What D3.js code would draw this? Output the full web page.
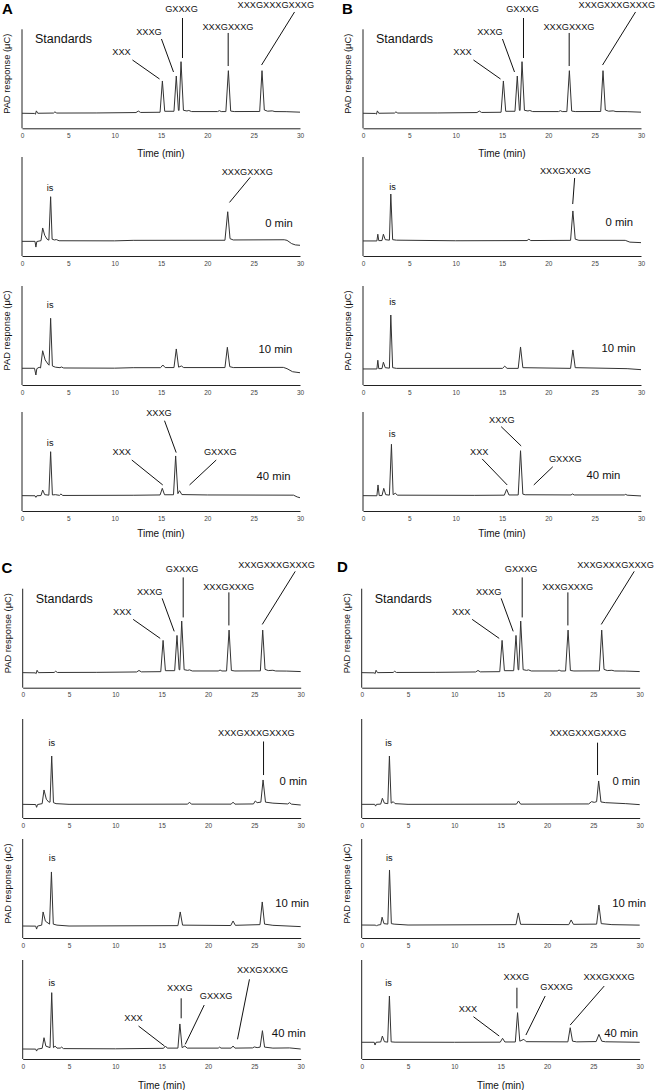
<!DOCTYPE html>
<html><head><meta charset="utf-8">
<script src="https://cdn.jsdelivr.net/npm/d3@7"></script>
<style>body{margin:0;background:#fff} text{font-family:"Liberation Sans",Arial,sans-serif}</style>
</head><body><svg id="c" width="656" height="1090"></svg>
<script>
// ---------- DATA (time in min, PAD response in relative units 0-100) ----------
const xTicks = [0,5,10,15,20,25,30];
const panelLetters = ["A","B","C","D"];
const captions = ["Standards","0 min","10 min","40 min"];

const standardsTrace = [[0,15.2],[1.35,15.0],[1.45,14.2],[1.55,17.6],[1.7,15.2],[3.4,15.4],[3.55,16.6],[3.75,15.4],[8,15.5],[12.3,15.9],[12.55,17.4],[12.8,16.0],[14.9,16.2],[15.15,47.8],[15.4,17.2],[16.4,17.2],[16.65,52.8],[16.88,18.2],[16.95,18],[17.16,67.3],[17.42,18.2],[17.8,17.5],[18.0,18],[18.3,16.9],[21.1,16.9],[21.3,17.8],[21.5,16.9],[22.0,16.9],[22.27,58.2],[22.52,17.4],[22.9,16.9],[25.65,17.0],[25.9,58.2],[26.15,18.5],[26.5,17.3],[27,17.6],[27.3,16.9],[28.5,16.8],[30,16.3]];

const a0Trace = [[0,14.8],[1.4,14.8],[1.5,9.0],[1.6,14.6],[2.05,15.5],[2.23,28.3],[2.45,21],[2.7,17],[2.9,16],[3.09,59.9],[3.25,17],[3.5,16.2],[3.7,16.6],[4,15.4],[10,15.3],[12,15.8],[21.9,15.9],[22.2,44.7],[22.45,17.5],[22.8,16.2],[28.3,16.4],[28.6,15.8],[29.1,12.5],[29.5,11.2],[30,10.8]];
const a10Trace = [[0,16.9],[1.35,16.9],[1.5,10.1],[1.6,16.5],[1.85,17.9],[2.0,17.2],[2.23,34.6],[2.5,25.3],[2.8,21.2],[2.92,20],[3.09,67.4],[3.28,19.2],[3.6,18],[4.1,17.5],[4.25,18.2],[4.5,17.2],[10,17],[12,17.5],[14.95,17.5],[15.2,20.2],[15.45,17.6],[16.4,17.6],[16.65,36.4],[16.9,18],[17.2,19.2],[17.45,17.6],[21.9,17.6],[22.16,38.1],[22.42,18.5],[22.8,17.6],[28.2,17.8],[28.6,16.5],[29.2,13.4],[30,12.4]];
const a40Trace = [[0,15.5],[1.4,15.4],[1.5,13.8],[1.6,15.4],[2.05,15.6],[2.23,21.2],[2.45,16.5],[2.9,16],[3.09,59.9],[3.28,16.2],[3.6,16.5],[4.05,15.8],[4.2,17.2],[4.4,15.7],[12,15.9],[14.9,16.2],[15.14,22.9],[15.38,16.4],[16.35,16.4],[16.58,55.6],[16.82,17.5],[17.0,20.5],[17.25,16.6],[20,16.2],[29.3,16.0],[29.7,14.2],[30,13.4]];

const b0Trace = [[0,15.2],[1.5,15.2],[1.6,22],[1.7,15.5],[2.05,15.6],[2.2,22],[2.4,16.5],[2.85,16],[3.0,62.6],[3.2,16.5],[3.6,16],[10,15.4],[17.7,15.6],[17.9,17],[18.1,15.6],[22.4,15.8],[22.65,45.5],[22.9,17],[23.3,15.8],[28.3,15.8],[28.8,14],[30,13.5]];
const b10Trace = [[0,16.2],[1.5,16.2],[1.6,25],[1.7,16.5],[2.05,16.6],[2.2,23],[2.4,17.5],[2.85,17],[3.0,70.7],[3.2,17.5],[3.6,16.8],[15.05,16.8],[15.3,19],[15.55,16.8],[16.75,16.8],[17.0,38.4],[17.25,17.5],[22.4,16.8],[22.65,35.4],[22.9,17.5],[28.5,16.5],[30,15.5]];
const b40Trace = [[0,15.5],[1.5,15.4],[1.62,26.3],[1.75,15.6],[2.05,15.6],[2.24,22.9],[2.45,16.5],[2.85,16],[3.07,67.4],[3.25,16.5],[3.5,18],[3.7,16],[12,15.8],[15.25,16],[15.5,21.9],[15.75,16.2],[16.75,16.2],[17.0,60.9],[17.25,17],[17.5,16.4],[22.45,16.2],[22.6,17.2],[22.8,16.2],[28.2,16.2],[28.35,16.8],[28.5,16],[30,15.2]];

const c0Trace = [[0,13.8],[1.4,13.6],[1.5,10.8],[1.6,13.6],[2.1,14.5],[2.3,28.3],[2.55,19],[2.8,16.2],[2.95,16],[3.13,62.6],[3.32,15.5],[3.6,14.5],[5,13.8],[17.8,14],[18,16],[18.2,14],[22.5,14],[22.7,16],[22.9,14],[24.9,14.2],[25.1,17.2],[25.3,15.5],[25.7,16],[25.94,38.4],[26.2,16],[27,15],[28.6,14.2],[28.8,15.5],[29,14],[30,13.1]];
const c10Trace = [[0,12.1],[1.4,12],[1.5,9],[1.6,12],[2.05,13],[2.2,26.3],[2.45,17],[2.9,14],[3.1,66.7],[3.3,14],[3.7,13],[5,12.1],[16.75,12.5],[17.0,26.3],[17.25,13],[22.45,12.6],[22.7,17.2],[22.95,12.8],[25.6,13.5],[25.85,36.4],[26.1,14],[27,12.8],[30,11.5]];
const c40Trace = [[0,10.1],[1.4,10],[1.5,8],[1.6,10],[2.1,10.8],[2.3,21.5],[2.5,13],[2.95,11.5],[3.13,67],[3.32,11.5],[3.5,13],[3.7,11],[4.05,11],[4.2,12],[4.4,10.5],[10,10.3],[15.2,10.8],[15.4,13.1],[15.6,11],[16.75,11],[16.96,35.4],[17.2,11.5],[17.5,13.1],[17.75,11],[21.1,11],[21.25,12],[21.4,11],[22.5,11],[22.7,13.1],[22.9,11],[24.8,11.2],[25.0,12.2],[25.3,11.5],[25.62,12],[25.87,28.6],[26.1,12],[27,11],[28.8,11.2],[30,10.1]];

const d0Trace = [[0,13.8],[1.4,13.8],[1.5,12],[1.6,13.8],[2.05,14],[2.23,19.9],[2.45,15],[2.82,14.5],[2.99,62.6],[3.18,15],[3.4,16.5],[3.6,14.5],[5,13.8],[16.7,14],[16.92,17.2],[17.15,14],[24.5,14.2],[24.8,16.5],[25.1,15.8],[25.35,16.5],[25.57,37.4],[25.82,16.2],[26.3,15.5],[28.5,14.5],[30,13.5]];
const d10Trace = [[0,13.1],[1.5,13],[1.6,12],[1.7,13],[2.05,13.5],[2.2,21],[2.4,14.5],[2.82,14],[3.0,68.7],[3.2,14.5],[3.5,14],[5,13.1],[16.65,13.5],[16.9,25.3],[17.15,13.8],[22.35,13.5],[22.6,18.2],[22.85,13.8],[25.35,14],[25.6,33.3],[25.85,14.5],[27,13.5],[30,13]];
const d40Trace = [[0,16.9],[1.35,16.9],[1.44,14.1],[1.55,16.9],[2.05,17.2],[2.23,23.2],[2.45,17.5],[2.8,17],[2.99,63.6],[3.18,17.3],[3.6,17],[10,16.9],[14.95,17],[15.2,20.9],[15.45,17.2],[16.58,17.2],[16.82,46.8],[17.06,18],[17.5,19.9],[17.75,17.5],[22.25,17.3],[22.5,31.6],[22.75,18],[23.2,17.3],[25.3,17.6],[25.6,24.9],[25.9,18],[26.3,17.4],[30,16.9]];

// peak annotations: label, label anchor (t, v), leader line [t1,v1,t2,v2]
const standardsNotes = [
  {text:"XXX", t:10.74, v:77.1, line:[11.92,69.0,14.84,49.8]},
  {text:"XXXG", t:13.70, v:97.3, line:[15.05,90.2,16.35,56.9]},
  {text:"GXXXG", t:17.21, v:120.5, line:[17.32,111.4,17.32,71.0]},
  {text:"XXXGXXXG", t:22.23, v:102.3, line:[22.25,96.3,22.25,62.9]},
  {text:"XXXGXXXGXXXG", t:27.39, v:124.5, line:[29.41,117.5,25.85,63.9]}
];
const a0Notes = [{text:"is", t:3.02, v:68.7},{text:"XXXGXXXG", t:24.31, v:85.2, line:[24.63,79.5,22.39,54.1]}];
const a10Notes = [{text:"is", t:3.04, v:80.8}];
const a40Notes = [{text:"is", t:3.04, v:69.4},
  {text:"XXX", t:10.76, v:59.9, line:[11.85,51.5,15.19,26.3]},
  {text:"XXXG", t:14.78, v:99.3, line:[15.38,91.2,16.64,59.0]},
  {text:"GXXXG", t:21.4, v:59.9, line:[20.96,51.5,18.08,26.3]}];
const b0Notes = [{text:"is", t:3.18, v:69.7},{text:"XXXGXXXG", t:21.85, v:85.9, line:[22.84,78.8,22.63,52.5]}];
const b10Notes = [{text:"is", t:3.18, v:83.8}];
const b40Notes = [{text:"is", t:3.15, v:78.5},
  {text:"XXX", t:12.55, v:59.9, line:[12.86,52.6,15.56,26.3]},
  {text:"XXXG", t:14.98, v:91.9, line:[14.91,85.2,17.07,65.7]},
  {text:"GXXXG", t:21.83, v:53.2, line:[20.48,44.7,18.43,26.3]}];
const c0Notes = [{text:"is", t:3.15, v:75.5},{text:"XXXGXXXGXXXG", t:25.22, v:86.2, line:[25.99,77.3,25.99,43.4]}];
const c10Notes = [{text:"is", t:3.18, v:80.8}];
const c40Notes = [{text:"is", t:3.15, v:77.1},
  {text:"XXX", t:11.96, v:42.1, line:[12.5,33.3,15.3,13.1]},
  {text:"XXXG", t:16.96, v:72.4, line:[17.1,61.3,17.1,41.1]},
  {text:"GXXXG", t:20.88, v:63.6, line:[19.59,54.5,17.54,14.8]},
  {text:"XXXGXXXG", t:25.88, v:90.6, line:[24.47,80.5,23.18,19.9]}];
const d0Notes = [{text:"is", t:2.89, v:75.5},{text:"XXXGXXXGXXXG", t:24.42, v:86.2, line:[25.45,76.1,25.45,43.4]}];
const d10Notes = [{text:"is", t:2.97, v:80.8}];
const d40Notes = [{text:"is", t:2.89, v:76.5},
  {text:"XXX", t:11.47, v:51.2, line:[12.06,42.7,14.84,23.2]},
  {text:"XXXG", t:16.69, v:83.1, line:[16.75,72.0,16.75,51.2]},
  {text:"GXXXG", t:21.04, v:73.0, line:[19.8,63.6,17.72,24.2]},
  {text:"XXXGXXXG", t:26.69, v:83.1, line:[26.17,73.7,22.5,34.3]}];

// caption anchor (left edge t, centre v) per subplot
const standardsCaption = {t:1.4, v:90.2};
const aCaps = [{t:26.24, v:33.6},{t:25.52, v:36.4},{t:25.31, v:35.4}];
const bCaps = [{t:26.17, v:34.3},{t:25.74, v:37.4},{t:24.12, v:36.4}];
const cCaps = [{t:27.71, v:37.4},{t:27.25, v:35.4},{t:26.89, v:26.6}];
const dCaps = [{t:27.06, v:37.4},{t:27.03, v:35.4},{t:26.17, v:26.6}];

// ---------- LAYOUT ----------
const W = 278, H = 99;
const panels = [
  {letter:"A", x:22,   letterX:2,   letterY:13.5, bottoms:[128.3,256,385,511], traces:[standardsTrace,a0Trace,a10Trace,a40Trace], notes:[standardsNotes,a0Notes,a10Notes,a40Notes], caps:aCaps, timeRows:[0,3], timeOff:[25.5,null,null,22]},
  {letter:"B", x:363,  letterX:342, letterY:13.5, bottoms:[128.3,256,385,511], traces:[standardsTrace,b0Trace,b10Trace,b40Trace], notes:[standardsNotes,b0Notes,b10Notes,b40Notes], caps:bCaps, timeRows:[0,3], timeOff:[25.5,null,null,22.5]},
  {letter:"C", x:22.7, letterX:1.5, letterY:572.5, bottoms:[687.7,818,938,1059], traces:[standardsTrace,c0Trace,c10Trace,c40Trace], notes:[standardsNotes,c0Notes,c10Notes,c40Notes], caps:cCaps, timeRows:[3], timeOff:[null,null,null,26]},
  {letter:"D", x:361.7,letterX:337, letterY:571.5, bottoms:[687.7,818,938,1059], traces:[standardsTrace,d0Trace,d10Trace,d40Trace], notes:[standardsNotes,d0Notes,d10Notes,d40Notes], caps:dCaps, timeRows:[3], timeOff:[null,null,null,26]}
];

const svg = d3.select("#c");
const x = d3.scaleLinear().domain([0,30]).range([0,W]);
const y = d3.scaleLinear().domain([0,100]).range([H,0]);
const line = d3.line().x(d=>x(d[0])).y(d=>y(d[1]));
const FONT = '"Liberation Sans", Arial, sans-serif';

panels.forEach(p => {
  svg.append("text").attr("x", p.letterX).attr("y", p.letterY)
    .attr("font-size", 15).attr("font-weight", "bold").attr("fill", "#000").text(p.letter);
  p.bottoms.forEach((b, i) => {
    const g = svg.append("g").attr("transform", `translate(${p.x},${b - H})`);
    const ax = g.append("g").attr("transform", `translate(0,${H})`)
      .call(d3.axisBottom(x).tickValues(xTicks).tickSize(0).tickSizeOuter(0).tickPadding(5));
    ax.select(".domain").attr("stroke", "#222").attr("stroke-width", 1);
    ax.selectAll("text").attr("font-size", 6.5).attr("font-family", FONT).attr("fill", "#444");
    g.append("line").attr("x1", 0).attr("x2", 0).attr("y1", 0).attr("y2", H)
      .attr("stroke", "#222").attr("stroke-width", 1);
    g.append("path").datum(p.traces[i]).attr("d", line)
      .attr("fill", "none").attr("stroke", "#333").attr("stroke-width", 1)
      .attr("stroke-linejoin", "round");
    p.notes[i].forEach(n => {
      g.append("text").attr("x", x(n.t)).attr("y", y(n.v)).attr("dy", "0.35em")
        .attr("text-anchor", "middle").attr("font-size", 9.2).attr("fill", "#111").text(n.text);
      if (n.line) {
        g.append("line").attr("x1", x(n.line[0])).attr("y1", y(n.line[1]))
          .attr("x2", x(n.line[2])).attr("y2", y(n.line[3]))
          .attr("stroke", "#111").attr("stroke-width", 1);
      }
    });
    const cap = i === 0 ? standardsCaption : p.caps[i-1];
    g.append("text").attr("x", x(cap.t)).attr("y", y(cap.v)).attr("dy", "0.35em")
      .attr("font-size", i === 0 ? 12.5 : 11.3).attr("fill", "#111").text(captions[i]);
    if (i === 0 || i === 2) {
      g.append("text").attr("transform", `translate(-15,${H/2 - 5}) rotate(-90)`)
        .attr("text-anchor", "middle").attr("dy", "0.35em").attr("font-size", 9.3).attr("fill", "#111")
        .text("PAD response (μC)");
    }
    if (p.timeRows.includes(i)) {
      g.append("text").attr("x", W/2).attr("y", H + p.timeOff[i]).attr("dy", "0.35em")
        .attr("text-anchor", "middle").attr("font-size", 10).attr("fill", "#111").text("Time (min)");
    }
  });
});
</script></body></html>
